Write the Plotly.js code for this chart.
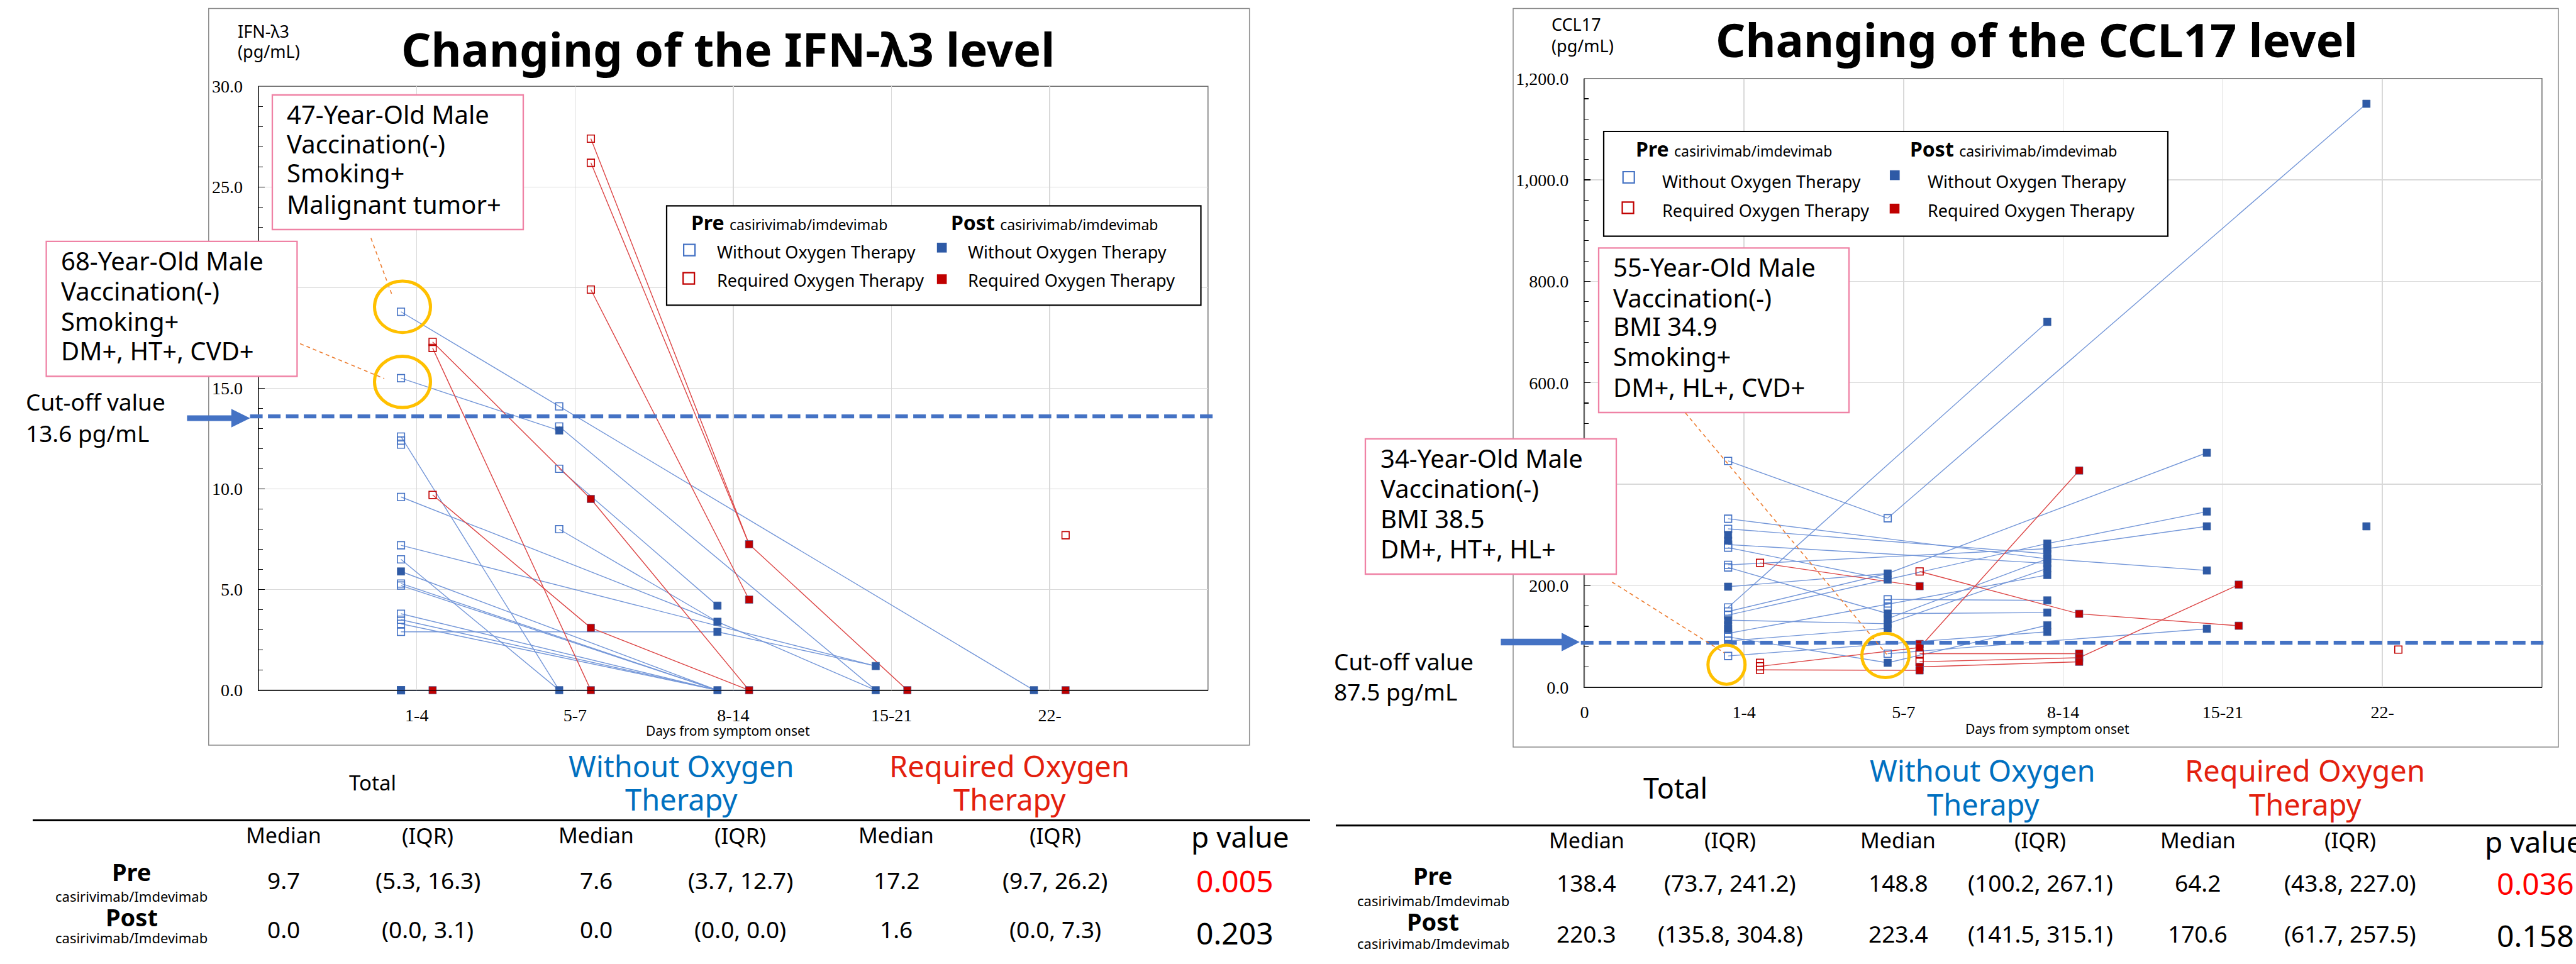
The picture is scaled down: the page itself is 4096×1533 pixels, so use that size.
<!DOCTYPE html>
<html>
<head>
<meta charset="utf-8">
<script src="https://cdn.plot.ly/plotly-3.0.1.min.js"></script>
<style>
html,body{margin:0;padding:0;background:#ffffff;overflow:hidden;}
#chart{width:4096px;height:1533px;}
</style>
</head>
<body>
<div id="chart"></div>
<script>
// ---------------- data ----------------
const categories = ['1-4', '5-7', '8-14', '15-21', '22-'];
const categoryPos = [1, 2, 3, 4, 5];

// IFN-λ3 (pg/mL)
const ifnCutoff = 13.6;
const ifnYTicks = [0, 5, 10, 15, 20, 25, 30];
const ifnYTickText = ['0.0', '5.0', '10.0', '15.0', '', '25.0', '30.0'];   // 20.0 is hidden behind the case box
const ifnPreWoCat  = [1,1,1,1,1,1,1,1,1,1,1,1,1,1,1, 2,2,2,2];
const ifnPreWoVal  = [18.8,15.5,12.6,12.4,12.2,9.6,7.2,6.5,5.3,5.2,3.8,3.5,3.3,2.9,0, 14.1,13.1,11.0,8.0];
const ifnPostWoCat = [1,1,2,2,3,3,3,3,4,4,5];
const ifnPostWoVal = [5.9,0,12.9,0,4.2,3.4,2.9,0,1.2,0,0];
const ifnPreReqCat = [1,1,1,2,2,2,5];
const ifnPreReqVal = [17.3,17.0,9.7,27.4,26.2,19.9,7.7];
const ifnPostReqCat = [1,2,2,2,3,3,3,4,5];
const ifnPostReqVal = [0,9.5,3.1,0,7.25,4.5,0,0,0];
// patient links: [fromCat, fromVal, toCat, toVal]
const ifnWoLinks = [[1,18.8,2,14.1],[2,14.1,5,0],[1,15.5,2,12.9],[2,13.1,4,0],[1,12.6,2,0],
  [1,9.6,3,3.4],[3,3.4,4,0],[1,7.2,4,1.2],[1,6.5,2,0],[1,5.9,3,0],[1,5.3,3,0],[1,5.2,3,0],
  [1,3.8,3,0],[1,3.5,3,0],[1,3.3,3,0],[1,2.9,3,2.9],[3,2.9,4,1.2],[2,11.0,3,4.2],[2,8.0,3,3.4],[1,0,4,0]];
const ifnReqLinks = [[1,17.3,2,9.5],[2,9.5,3,0],[1,17.0,2,0],[1,9.7,2,3.1],[2,3.1,3,0],
  [2,27.4,3,7.25],[2,26.2,3,7.25],[3,7.25,4,0],[2,19.9,3,4.5]];

// CCL17 (pg/mL)
const cclCutoff = 87.5;
const cclYTicks = [0, 200, 400, 600, 800, 1000, 1200];
const cclYTickText = ['0.0', '200.0', '', '600.0', '800.0', '1,000.0', '1,200.0']; // 400.0 hidden behind the case box
const cclPreWoCat  = [1,1,1,1,1,1,1,1,1,1,1,1,1,1, 2,2,2,2,2];
const cclPreWoVal  = [446,332,312,281,275,241,236,157,149,142,106,99,91,61.5, 333,173,165,157,66];
const cclPostWoCat = [1,1,1,1,1,1, 2,2,2,2,2,2,2, 3,3,3,3,3,3,3,3,3,3,3,3, 4,4,4,4,4, 5,5];
const cclPostWoVal = [300,289,198,132,122,115, 224,212,145,135,125,116,48,
  720,283,273,263,253,244,234,221,171,147,122,109, 462,346,317,230,115, 1150,317];
const cclPreReqCat = [1,1,1,1, 2,2,2, 5];
const cclPreReqVal = [245,48,41,34, 228,66,50, 74];
const cclPostReqCat = [2,2,2,2,2, 3,3,3,3,3, 4,4];
const cclPostReqVal = [199,85,78,40,33, 427,144.5,66,58,50, 202,121];
const cclWoLinks = [[1,446,2,333],[2,333,5,1150],[1,157,3,720],[1,332,3,253],[1,312,3,263],
  [1,281,3,244],[1,275,2,212],[1,241,3,273],[1,236,2,145],[1,198,2,224],[1,149,2,224],
  [2,224,4,462],[1,142,3,283],[1,132,2,125],[1,106,3,221],[1,99,2,48],[1,91,2,116],
  [1,61.5,3,109],[2,173,3,171],[2,145,3,147],[2,135,3,253],[2,125,3,234],[2,66,4,115],
  [2,48,3,122],[3,283,4,346],[3,273,4,317],[3,253,4,230]];
const cclReqLinks = [[1,245,2,199],[1,41,2,78],[2,78,3,427],[1,34,2,33],[2,228,3,144.5],
  [3,144.5,4,121],[2,66,3,66],[2,50,3,58],[2,40,3,50],[3,58,4,202]];

// summary tables
const tableGroups = ['Total', 'Without Oxygen', 'Required Oxygen'];
const tableCols = ['Median', '(IQR)', 'Median', '(IQR)', 'Median', '(IQR)'];
const rowLabels = ['Pre', 'Post'];
const drugLabel = 'casirivimab/Imdevimab';
const ifnTablePre  = ['9.7', '(5.3, 16.3)', '7.6', '(3.7, 12.7)', '17.2', '(9.7, 26.2)'];
const ifnTablePost = ['0.0', '(0.0, 3.1)', '0.0', '(0.0, 0.0)', '1.6', '(0.0, 7.3)'];
const ifnPvals = ['0.005', '0.203'];
const cclTablePre  = ['138.4', '(73.7, 241.2)', '148.8', '(100.2, 267.1)', '64.2', '(43.8, 227.0)'];
const cclTablePost = ['220.3', '(135.8, 304.8)', '223.4', '(141.5, 315.1)', '170.6', '(61.7, 257.5)'];
const cclPvals = ['0.036', '0.158'];

// annotation texts
const ifnTitle = 'Changing of the IFN-λ3 level';
const cclTitle = 'Changing of the CCL17 level';
const ifnUnit = ['IFN-λ3', '(pg/mL)'];
const cclUnit = ['CCL17', '(pg/mL)'];
const xTitle = 'Days from symptom onset';
const caseBox1 = ['47-Year-Old Male', 'Vaccination(-)', 'Smoking+', 'Malignant tumor+'];
const caseBox2 = ['68-Year-Old Male', 'Vaccination(-)', 'Smoking+', 'DM+, HT+, CVD+'];
const caseBox3 = ['55-Year-Old Male', 'Vaccination(-)', 'BMI 34.9', 'Smoking+', 'DM+, HL+, CVD+'];
const caseBox4 = ['34-Year-Old Male', 'Vaccination(-)', 'BMI 38.5', 'DM+, HT+, HL+'];
const ifnCutText = ['Cut-off value', '13.6 pg/mL'];
const cclCutText = ['Cut-off value', '87.5 pg/mL'];
const legendItems = ['Without Oxygen Therapy', 'Required Oxygen Therapy'];

// ---------------- helpers ----------------
const W = 4096, H = 1533;
const px = v => v / W;
const py = v => 1 - v / H;
const FONT = 'Noto Sans';
const BLUE_OPEN = '#4472c4', BLUE_FILL = '#2e5aa6', RED = '#c00000';
const BLUE_LINE = '#7396d8', RED_LINE = '#dc4444';
const OFF_WO = -0.1, OFF_REQ = 0.1;

function linkTrace(links, off, color, xa, ya) {
  const x = [], y = [];
  links.forEach(l => { x.push(l[0] + off, l[2] + off, null); y.push(l[1], l[3], null); });
  return {type: 'scatter', mode: 'lines', x, y, xaxis: xa, yaxis: ya,
    line: {color, width: 1.4}, hoverinfo: 'skip', showlegend: false, connectgaps: false};
}
function markTrace(cats, vals, off, symbol, color, xa, ya) {
  const filled = symbol === 'square';
  return {type: 'scatter', mode: 'markers', x: cats.map(c => c + off), y: vals,
    xaxis: xa, yaxis: ya, cliponaxis: false, hoverinfo: 'skip', showlegend: false,
    marker: {symbol, size: filled ? 12 : 11.5, color,
      line: {width: filled ? 0.6 : 1.6, color: filled ? '#3a5f9e' : color}}};
}
const annotations = [];
function ann(x, y, text, size, o) {
  o = o || {};
  annotations.push({xref: 'paper', yref: 'paper', x: px(x), y: py(y), text,
    showarrow: false, xanchor: o.xa || 'left', yanchor: 'middle', align: o.xa || 'left',
    font: {family: o.family || FONT, size, color: o.color || '#000'}});
}
const shapes = [];
function rect(x0, y0, x1, y1, lineColor, lw, fill, layer) {
  shapes.push({type: 'rect', xref: 'paper', yref: 'paper', x0: px(x0), x1: px(x1), y0: py(y1), y1: py(y0),
    line: {color: lineColor, width: lw}, fillcolor: fill || 'rgba(0,0,0,0)', layer: layer || 'above'});
}
function seg(x0, y0, x1, y1, color, lw, dash) {
  shapes.push({type: 'line', xref: 'paper', yref: 'paper', x0: px(x0), y0: py(y0), x1: px(x1), y1: py(y1),
    line: {color, width: lw, dash: dash || 'solid'}, layer: 'above'});
}
function ellipse(x0, y0, x1, y1) {
  shapes.push({type: 'circle', xref: 'paper', yref: 'paper', x0: px(x0), x1: px(x1), y0: py(y1), y1: py(y0),
    line: {color: '#ffc000', width: 5}, layer: 'above'});
}
function arrow(x0, xh, xt, y, hs, hh) {
  const P = (a, b) => px(a) + ',' + py(b);
  shapes.push({type: 'path', xref: 'paper', yref: 'paper', layer: 'above',
    path: 'M' + P(x0, y - hs) + ' L' + P(xh, y - hs) + ' L' + P(xh, y - hh) + ' L' + P(xt, y) +
      ' L' + P(xh, y + hh) + ' L' + P(xh, y + hs) + ' L' + P(x0, y + hs) + ' Z',
    fillcolor: '#4472c4', line: {width: 0}});
}
function cutLine(yref, val, x0, x1) {
  shapes.push({type: 'line', xref: 'paper', yref, x0: px(x0), x1: px(x1), y0: val, y1: val,
    line: {color: '#4472c4', width: 6.3, dash: '20px,8.5px'}, layer: 'above'});
}
function lines(x, ys, texts, size) { texts.forEach((t, i) => ann(x, ys[i], t, size)); }

// ---------------- traces ----------------
const data = [
  linkTrace(ifnWoLinks, OFF_WO, BLUE_LINE, 'x', 'y'),
  linkTrace(ifnReqLinks, OFF_REQ, RED_LINE, 'x', 'y'),
  markTrace(ifnPreWoCat, ifnPreWoVal, OFF_WO, 'square-open', BLUE_OPEN, 'x', 'y'),
  markTrace(ifnPostWoCat, ifnPostWoVal, OFF_WO, 'square', BLUE_FILL, 'x', 'y'),
  markTrace(ifnPreReqCat, ifnPreReqVal, OFF_REQ, 'square-open', RED, 'x', 'y'),
  markTrace(ifnPostReqCat, ifnPostReqVal, OFF_REQ, 'square', RED, 'x', 'y'),
  linkTrace(cclWoLinks, OFF_WO, BLUE_LINE, 'x2', 'y2'),
  linkTrace(cclReqLinks, OFF_REQ, RED_LINE, 'x2', 'y2'),
  markTrace(cclPreWoCat, cclPreWoVal, OFF_WO, 'square-open', BLUE_OPEN, 'x2', 'y2'),
  markTrace(cclPostWoCat, cclPostWoVal, OFF_WO, 'square', BLUE_FILL, 'x2', 'y2'),
  markTrace(cclPreReqCat, cclPreReqVal, OFF_REQ, 'square-open', RED, 'x2', 'y2'),
  markTrace(cclPostReqCat, cclPostReqVal, OFF_REQ, 'square', RED, 'x2', 'y2')
];

// ---------------- shapes ----------------
rect(331.8, 13.5, 1986.7, 1185, '#8c8c8c', 1.5, null, 'below');
rect(2406, 13.5, 4068, 1188, '#8c8c8c', 1.5, null, 'below');
['x', 'x2'].forEach((xa, i) => {
  shapes.push({type: 'rect', xref: xa + ' domain', yref: (i ? 'y2' : 'y') + ' domain', x0: 0, x1: 1, y0: 0, y1: 1,
    line: {color: '#6f6f6f', width: 1.5}, layer: 'below'});
});
cutLine('y', ifnCutoff, 397.6, 1931);
cutLine('y2', cclCutoff, 2513.7, 4047);
arrow(297.4, 367.8, 397.7, 665, 4.4, 14.7);
arrow(2386.4, 2483, 2511.8, 1021, 5.3, 14.7);
rect(1060, 327.3, 1909.5, 485.4, '#000', 2.2, '#fff');
rect(2550, 209, 3447, 375.7, '#000', 2.2, '#fff');
function legendSym(cx, cy, sz, filled, color) {
  const h = sz / 2;
  if (filled) rect(cx - h, cy - h, cx + h, cy + h, color, 0.1, color);
  else rect(cx - h, cy - h, cx + h, cy + h, color, 2.2, 'rgba(0,0,0,0)');
}
legendSym(1096.1, 397.6, 18, false, BLUE_OPEN);
legendSym(1095.2, 442.7, 18, false, RED);
legendSym(1497.6, 393.8, 15.5, true, BLUE_FILL);
legendSym(1497.6, 444, 15.5, true, RED);
legendSym(2589.7, 282, 18, false, BLUE_OPEN);
legendSym(2588.5, 330.4, 18, false, RED);
legendSym(3012.8, 278.6, 15.5, true, BLUE_FILL);
legendSym(3012.5, 331.7, 15.5, true, RED);
const PINK = '#ef82a5';
rect(433, 151, 832, 365, PINK, 2.3, '#fff');
rect(73.6, 383.8, 472.4, 598.5, PINK, 2.3, '#fff');
rect(2542, 394.4, 2940, 656, PINK, 2.3, '#fff');
rect(2171, 697.8, 2570, 913, PINK, 2.3, '#fff');
const ORANGE = '#ed7d31';
seg(589.9, 378.8, 623.2, 468.5, ORANGE, 1.6, '6px,5px');
seg(477.2, 546.6, 611, 602, ORANGE, 1.6, '6px,5px');
seg(2680, 656.7, 3000, 1040.6, ORANGE, 1.6, '6px,5px');
seg(2563.4, 925.7, 2741.5, 1038, ORANGE, 1.6, '6px,5px');
ellipse(595.5, 447.1, 684.5, 528.7);
ellipse(595.5, 566.4, 684.5, 648);
ellipse(2715.8, 1026, 2774.8, 1088.2);
ellipse(2960.5, 1007.3, 3035.5, 1077.5);
seg(52, 1304.5, 2083, 1304.5, '#000', 3);
seg(2124, 1312.7, 4096, 1312.7, '#000', 3);

// ---------------- annotations ----------------
ann(1157, 77, '<b>' + ifnTitle + '</b>', 74, {xa: 'center'});
ann(3238, 63, '<b>' + cclTitle + '</b>', 74, {xa: 'center'});
lines(376, [49, 81], ifnUnit, 27);
lines(2464.5, [38.6, 72], cclUnit, 27);
ann(1157.8, 1162, xTitle, 21, {xa: 'center'});
ann(3255, 1158.5, xTitle, 21, {xa: 'center'});
const hdr = t => '<b>' + t + '</b> <span style="font-size:23px">casirivimab/imdevimab</span>';
ann(1096.8, 353, hdr('Pre'), 32);
ann(1509.8, 353, hdr('Post'), 32);
ann(1137.6, 400.7, legendItems[0], 27); ann(1137.6, 445.9, legendItems[1], 27);
ann(1536.8, 400.7, legendItems[0], 27); ann(1536.8, 445.9, legendItems[1], 27);
ann(2599, 236, hdr('Pre'), 32);
ann(3034.5, 236, hdr('Post'), 32);
ann(2641, 288, legendItems[0], 27); ann(2641, 334, legendItems[1], 27);
ann(3062.6, 288, legendItems[0], 27); ann(3062.6, 334, legendItems[1], 27);
lines(454, [181, 228, 275, 324], caseBox1, 40);
lines(95.4, [414.6, 462, 510, 557.6], caseBox2, 40);
lines(2562.7, [424.5, 473.5, 518.6, 567, 615.8], caseBox3, 40);
lines(2192.8, [728.7, 776.5, 824.3, 872], caseBox4, 40);
lines(38.6, [638, 688], ifnCutText, 37);
lines(2118.8, [1051, 1099], cclCutText, 37);

function table(cfg) {
  const BLUE_T = '#0070c0', RED_T = '#e3200e';
  ann(cfg.totalX, cfg.totalY, tableGroups[0], cfg.totalSize, {xa: 'center'});
  ann(cfg.woX, cfg.g1Y, tableGroups[1], 47, {xa: 'center', color: BLUE_T});
  ann(cfg.woX, cfg.g2Y, 'Therapy', 47, {xa: 'center', color: BLUE_T});
  ann(cfg.reqX, cfg.g1Y, tableGroups[2], 47, {xa: 'center', color: RED_T});
  ann(cfg.reqX, cfg.g2Y, 'Therapy', 47, {xa: 'center', color: RED_T});
  tableCols.forEach((c, i) => ann(cfg.colX[i], cfg.headY, c, i % 2 ? 35 : 34, {xa: 'center'}));
  ann(cfg.pX, cfg.headY + 2, 'p value', 46, {xa: cfg.pAnchor});
  rowLabels.forEach((r, i) => {
    ann(cfg.labelX, cfg.labelY[i], '<b>' + r + '</b>', 38, {xa: 'center'});
    ann(cfg.labelX, cfg.drugY[i], drugLabel, 22, {xa: 'center'});
  });
  cfg.pre.forEach((v, i) => ann(cfg.colX[i], cfg.valY[0], v, 37, {xa: 'center'}));
  cfg.post.forEach((v, i) => ann(cfg.colX[i], cfg.valY[1], v, 37, {xa: 'center'}));
  ann(cfg.pvX, cfg.pvY[0], cfg.pv[0], 48, {xa: cfg.pAnchor, color: '#ff0000'});
  ann(cfg.pvX, cfg.pvY[1], cfg.pv[1], 48, {xa: cfg.pAnchor});
}
table({totalX: 592, totalY: 1244.5, totalSize: 33, woX: 1083, reqX: 1605, g1Y: 1218, g2Y: 1271,
  colX: [451, 680, 948, 1177, 1425.4, 1677.8], headY: 1328, pX: 1972, pAnchor: 'center',
  labelX: 209.2, labelY: [1385.5, 1458], drugY: [1424.5, 1491], valY: [1399, 1477],
  pre: ifnTablePre, post: ifnTablePost, pv: ifnPvals, pvX: 1963, pvY: [1400, 1483]});
table({totalX: 2663.5, totalY: 1252, totalSize: 45, woX: 3152.7, reqX: 3664.8, g1Y: 1225, g2Y: 1278.5,
  colX: [2522.6, 2751, 3018.3, 3244, 3494.5, 3737], headY: 1335.6, pX: 3948.5, pAnchor: 'left',
  labelX: 2278.7, labelY: [1392.3, 1465], drugY: [1432, 1500.4], valY: [1403, 1484.5],
  pre: cclTablePre, post: cclTablePost, pv: cclPvals, pvX: 3968, pvY: [1404.6, 1487]});

// ---------------- layout ----------------
const axisCommon = {
  showgrid: true, gridcolor: '#d9d9d9', gridwidth: 1.5, zeroline: false,
  showline: true, linecolor: '#000', linewidth: 1.5, fixedrange: true,
  tickfont: {family: 'Liberation Serif', size: 28, color: '#000'}
};
const xCommon = Object.assign({}, axisCommon, {range: [0, 6], tickmode: 'array', ticks: '', ticklabelstandoff: 14});
const yCommon = Object.assign({}, axisCommon, {ticks: 'inside', ticklen: 10, tickwidth: 1.5, tickcolor: '#000',
  tickmode: 'array', ticklabelstandoff: 18});

const layout = {
  width: W, height: H, margin: {l: 0, r: 0, t: 0, b: 0},
  paper_bgcolor: '#fff', plot_bgcolor: '#fff', showlegend: false,
  xaxis: Object.assign({}, xCommon, {domain: [px(411.1), px(1920.8)], anchor: 'y',
    tickvals: categoryPos, ticktext: categories}),
  yaxis: Object.assign({}, yCommon, {domain: [py(1097.6), py(137.2)], anchor: 'x', range: [0, 30],
    tickvals: ifnYTicks, ticktext: ifnYTickText,
    minor: {ticks: 'inside', tickmode: 'linear', tick0: 0, dtick: 1, ticklen: 7, tickwidth: 1.2, tickcolor: '#000', showgrid: false}}),
  xaxis2: Object.assign({}, xCommon, {domain: [px(2519.4), px(4041.9)], anchor: 'y2',
    tickvals: [0].concat(categoryPos), ticktext: ['0'].concat(categories)}),
  yaxis2: Object.assign({}, yCommon, {domain: [py(1092.7), py(124.7)], anchor: 'x2', range: [0, 1200],
    tickvals: cclYTicks, ticktext: cclYTickText,
    minor: {ticks: 'inside', tickmode: 'linear', tick0: 0, dtick: 40, ticklen: 7, tickwidth: 1.2, tickcolor: '#000', showgrid: false}}),
  shapes, annotations
};

Plotly.newPlot('chart', data, layout, {staticPlot: true, displayModeBar: false});
</script>
</body>
</html>
